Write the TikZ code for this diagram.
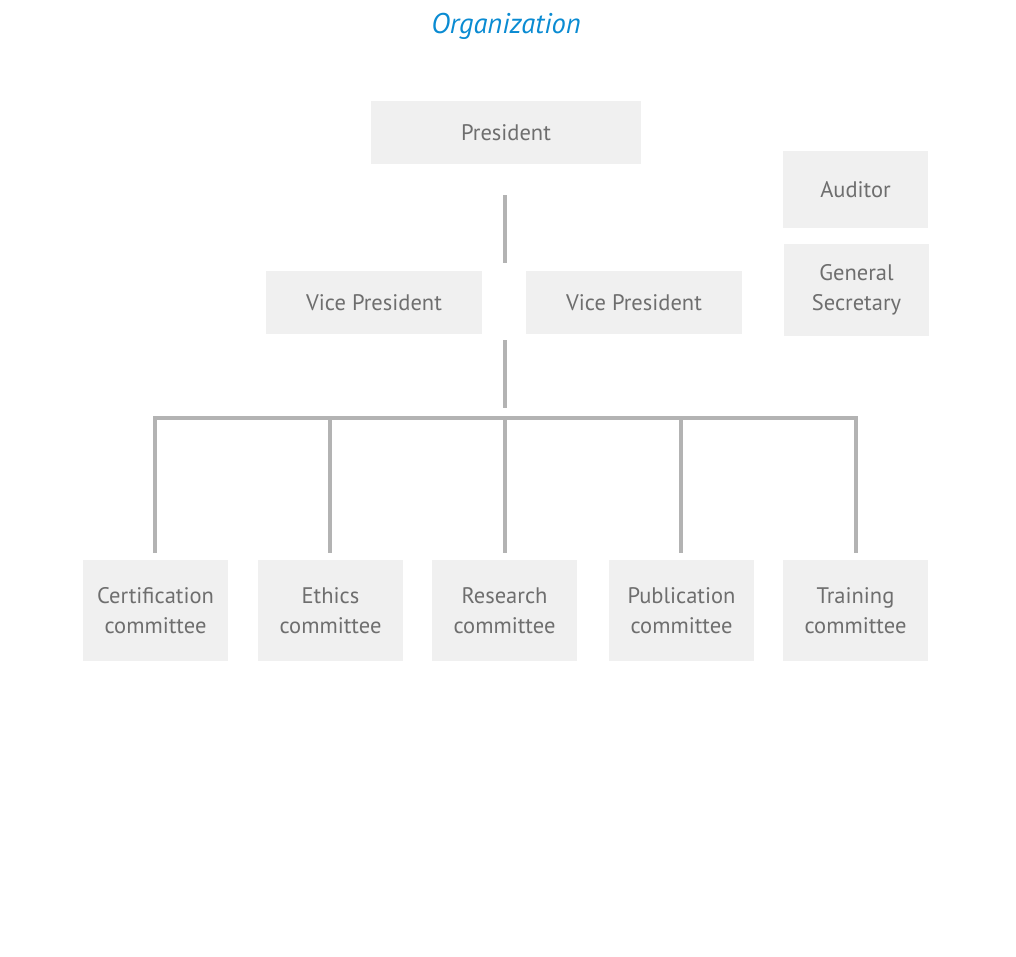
\documentclass[tikz,border=0pt]{standalone}
\usepackage{fontspec}
\setmainfont{PT Sans}
\definecolor{boxfill}{HTML}{F0F0F0}
\definecolor{boxtext}{HTML}{6E6E6E}
\definecolor{linegray}{HTML}{B3B3B3}
\definecolor{titleblue}{HTML}{0A8BD2}
\begin{document}
\begin{tikzpicture}[x=1pt,y=-1pt,
  orgbox/.style={fill=boxfill,draw=none,inner sep=0pt,text=boxtext,align=center,
    font=\fontsize{22.5}{29.5}\selectfont},
  conn/.style={draw=linegray,line width=4pt}]
\useasboundingbox (0,0) rectangle (1016,956);
\node[text=titleblue,font=\fontsize{28.5}{32}\selectfont\itshape] (title) at (506,26) {Organization};
% boxes
\node[orgbox,minimum width=270pt,minimum height=63pt] (pres) at (506,132.5) {President};
\node[orgbox,minimum width=145pt,minimum height=77pt] (aud) at (855.5,189.5) {Auditor};
\node[orgbox,minimum width=145pt,minimum height=92pt] (gs) at (856.5,290) {General\\Secretary};
\node[orgbox,minimum width=216pt,minimum height=63pt] (vp1) at (374,302.5) {Vice President};
\node[orgbox,minimum width=216pt,minimum height=63pt] (vp2) at (634,302.5) {Vice President};
\node[orgbox,minimum width=145pt,minimum height=101pt] (c1) at (155.5,610.5) {Certification\\committee};
\node[orgbox,minimum width=145pt,minimum height=101pt] (c2) at (330.5,610.5) {Ethics\\committee};
\node[orgbox,minimum width=145pt,minimum height=101pt] (c3) at (504.5,610.5) {Research\\committee};
\node[orgbox,minimum width=145pt,minimum height=101pt] (c4) at (681.5,610.5) {Publication\\committee};
\node[orgbox,minimum width=145pt,minimum height=101pt] (c5) at (855.5,610.5) {Training\\committee};
% connector points
\coordinate (p1a) at (505,195);
\coordinate (p1b) at (505,262.5);
\coordinate (p2a) at (505,340);
\coordinate (p2b) at (505,408);
\coordinate (hl) at (155,418);
\coordinate (hr) at (856,418);
\coordinate (d1) at (155,553);
\coordinate (d2) at (330,553);
\coordinate (d3) at (505,553);
\coordinate (d4) at (681,553);
\coordinate (d5) at (856,553);
\draw[conn] (p1a) -- (p1b);
\draw[conn] (p2a) -- (p2b);
\draw[conn] (d1) -- (hl) -- (hr) -- (d5);
\draw[conn] (d2 |- hl) -- (d2);
\draw[conn] (d3 |- hl) -- (d3);
\draw[conn] (d4 |- hl) -- (d4);
\end{tikzpicture}
\end{document}
